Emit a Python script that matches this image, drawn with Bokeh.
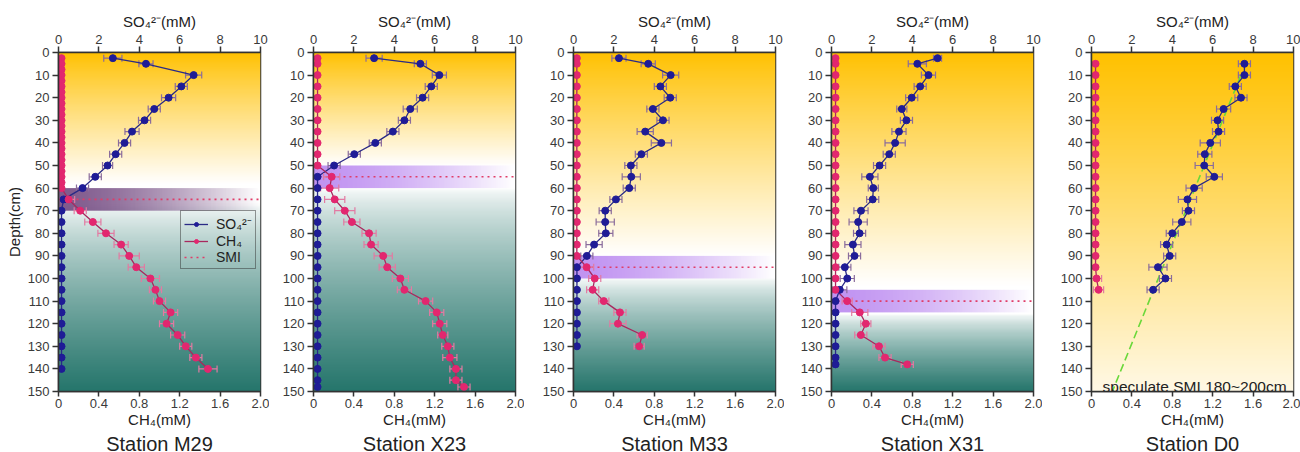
import math
import numpy as np
from bokeh.plotting import figure
from bokeh.models import (Range1d, LinearAxis, FixedTicker, ColumnDataSource, Label,
                          Legend, LegendItem)
from bokeh.layouts import row
from bokeh.embed import file_html
from bokeh.resources import INLINE

# ---------------- data ----------------
DEPTH_TICKS = [0, 10, 20, 30, 40, 50, 60, 70, 80, 90, 100, 110, 120, 130, 140, 150]
SO4_TICKS = [0, 2, 4, 6, 8, 10]
CH4_TICKS = [0, 0.4, 0.8, 1.2, 1.6, 2.0]
CH4_TICK_LABELS = {0: "0", 2: "2.0"}
SO4_RANGE = (0, 10)
CH4_RANGE = (0, 2)
DEPTH_RANGE = (150, 0)

STATIONS = ["Station M29", "Station X23", "Station M33", "Station X31", "Station D0"]

# M29
m29_so4_depth = [2.5, 5, 10, 15, 20, 25, 30, 35, 40, 45, 50, 55, 60, 65, 70, 75, 80, 85, 90,
                 95, 100, 105, 110, 115, 120, 125, 130, 135, 140]
m29_so4 = [2.69, 4.33, 6.69, 6.08, 5.45, 4.74, 4.26, 3.64, 3.27, 2.83, 2.43, 1.82, 1.19, 0.25,
           0.15, 0.15, 0.15, 0.15, 0.15, 0.15, 0.15, 0.15, 0.15, 0.15, 0.15, 0.15, 0.15, 0.15, 0.15]
m29_so4_err = [0.45, 0.35, 0.4, 0.3, 0.35, 0.3, 0.3, 0.35, 0.3, 0.3, 0.25, 0.3, 0.3, 0.0,
               0, 0, 0, 0, 0, 0, 0, 0, 0, 0, 0, 0, 0, 0, 0]
m29_ch4_depth = [2.5, 5, 7.5, 10, 12.5, 15, 17.5, 20, 22.5, 25, 27.5, 30, 32.5, 35, 37.5, 40,
                 42.5, 45, 47.5, 50, 52.5, 55, 57.5, 60, 65, 70, 75, 80, 85, 90, 95, 100, 105,
                 110, 115, 120, 125, 130, 135, 140]
m29_ch4 = [0.03, 0.03, 0.03, 0.03, 0.03, 0.03, 0.03, 0.03, 0.03, 0.03, 0.03, 0.03, 0.03, 0.03,
           0.03, 0.03, 0.03, 0.03, 0.03, 0.03, 0.03, 0.03, 0.03, 0.03,
           0.10, 0.215, 0.34, 0.47, 0.62, 0.70, 0.77, 0.91, 0.96, 1.00, 1.11, 1.07, 1.18, 1.26,
           1.36, 1.48]
m29_ch4_err = [0, 0, 0, 0, 0, 0, 0, 0, 0, 0, 0, 0, 0, 0, 0, 0, 0, 0, 0, 0, 0, 0, 0, 0,
               0.06, 0.06, 0.08, 0.08, 0.07, 0.1, 0.08, 0.09, 0.06, 0.06, 0.07, 0.07, 0.07,
               0.06, 0.06, 0.09]

# X23
x23_so4_depth = [2.5, 5, 10, 15, 20, 25, 30, 35, 40, 45, 50, 55, 60, 65, 70, 75, 80, 85, 90,
                 95, 100, 105, 110, 115, 120, 125, 130, 135, 140, 145, 148]
x23_so4 = [3.0, 5.29, 6.23, 5.83, 5.40, 4.79, 4.50, 3.93, 3.06, 2.02, 1.02, 0.2,
           0.2, 0.2, 0.2, 0.2, 0.2, 0.2, 0.2, 0.2, 0.2, 0.2, 0.2, 0.2, 0.2, 0.2, 0.2, 0.2,
           0.2, 0.2, 0.2]
x23_so4_err = [0.4, 0.3, 0.35, 0.3, 0.3, 0.35, 0.3, 0.3, 0.3, 0.3, 0.3, 0,
               0, 0, 0, 0, 0, 0, 0, 0, 0, 0, 0, 0, 0, 0, 0, 0, 0, 0, 0]
x23_ch4_depth = [2.5, 5, 10, 15, 20, 25, 30, 35, 40, 45, 50, 55, 60, 65, 70, 75, 80, 85, 90,
                 95, 100, 105, 110, 115, 120, 125, 130, 135, 140, 145, 148]
x23_ch4 = [0.04, 0.04, 0.04, 0.04, 0.04, 0.04, 0.04, 0.04, 0.04, 0.04, 0.04,
           0.18, 0.16, 0.21, 0.31, 0.38, 0.55, 0.57, 0.69, 0.73, 0.86, 0.90, 1.11, 1.22,
           1.25, 1.28, 1.33, 1.35, 1.41, 1.41, 1.49]
x23_ch4_err = [0, 0, 0, 0, 0, 0, 0, 0, 0, 0, 0,
               0.08, 0.09, 0.1, 0.1, 0.08, 0.07, 0.07, 0.09, 0.08, 0.08, 0.07, 0.07, 0.07,
               0.07, 0.05, 0.06, 0.07, 0.06, 0.06, 0.06]

# M33
m33_so4_depth = [2.5, 5, 10, 15, 20, 25, 30, 35, 40, 45, 50, 55, 60, 65, 70, 75, 80, 85, 90,
                 95, 100, 105, 110, 115, 120, 125, 130]
m33_so4 = [2.25, 3.70, 4.81, 4.30, 4.79, 3.93, 4.43, 3.55, 4.35, 3.36, 2.84, 2.86, 2.76, 2.10,
           1.57, 1.57, 1.60, 1.02, 0.66, 0.17, 0.17, 0.17, 0.17, 0.17, 0.17, 0.17, 0.17]
m33_so4_err = [0.35, 0.35, 0.4, 0.3, 0.3, 0.3, 0.3, 0.4, 0.5, 0.3, 0.3, 0.45, 0.3, 0.3, 0.3,
               0.45, 0.35, 0.4, 0.3, 0, 0, 0, 0, 0, 0, 0, 0]
m33_ch4_depth = [2.5, 5, 10, 15, 20, 25, 30, 35, 40, 45, 50, 55, 60, 65, 70, 75, 80, 85, 90,
                 95, 100, 105, 110, 115, 120, 125, 130]
m33_ch4 = [0.033, 0.033, 0.033, 0.033, 0.033, 0.033, 0.033, 0.033, 0.033, 0.033, 0.033, 0.033,
           0.033, 0.033, 0.033, 0.033, 0.033, 0.033, 0.033,
           0.13, 0.21, 0.19, 0.30, 0.46, 0.44, 0.68, 0.65]
m33_ch4_err = [0, 0, 0, 0, 0, 0, 0, 0, 0, 0, 0, 0, 0, 0, 0, 0, 0, 0, 0,
               0.07, 0.06, 0.06, 0.05, 0.06, 0.08, 0.05, 0.05]

# X31
x31_so4_depth = [2.5, 5, 10, 15, 20, 25, 30, 35, 40, 45, 50, 55, 60, 65, 70, 75, 80, 85, 90,
                 95, 100, 105, 110, 115, 120, 125, 130, 135, 138]
x31_so4 = [5.25, 4.25, 4.80, 4.39, 3.97, 3.48, 3.71, 3.34, 3.15, 2.86, 2.38, 1.90, 2.07, 2.04,
           1.46, 1.32, 1.39, 1.06, 1.14, 0.66, 0.78, 0.41, 0.2, 0.2, 0.2, 0.2, 0.2, 0.2, 0.2]
x31_so4_err = [0.2, 0.45, 0.35, 0.3, 0.3, 0.25, 0.3, 0.35, 0.5, 0.3, 0.3, 0.4, 0.25, 0.3, 0.35,
               0.45, 0.3, 0.4, 0.3, 0.3, 0.35, 0.35, 0, 0, 0, 0, 0, 0, 0]
x31_ch4_depth = [2.5, 5, 10, 15, 20, 25, 30, 35, 40, 45, 50, 55, 60, 65, 70, 75, 80, 85, 90,
                 95, 100, 105, 110, 115, 120, 125, 130, 135, 138]
x31_ch4 = [0.04, 0.04, 0.04, 0.04, 0.04, 0.04, 0.04, 0.04, 0.04, 0.04, 0.04, 0.04, 0.04, 0.04,
           0.04, 0.04, 0.04, 0.04, 0.04, 0.04, 0.04, 0.04,
           0.155, 0.28, 0.34, 0.29, 0.47, 0.53, 0.75]
x31_ch4_err = [0, 0, 0, 0, 0, 0, 0, 0, 0, 0, 0, 0, 0, 0, 0, 0, 0, 0, 0, 0, 0, 0,
               0.05, 0.08, 0.05, 0.06, 0.06, 0.06, 0.06]

# D0
d0_so4_depth = [5, 10, 15, 20, 25, 30, 35, 40, 45, 50, 55, 60, 65, 70, 75, 80, 85, 90, 95, 100, 105]
d0_so4 = [7.57, 7.57, 7.12, 7.40, 6.54, 6.24, 6.29, 5.88, 5.61, 5.58, 6.08, 5.08, 4.75, 4.80,
          4.47, 4.00, 3.72, 3.87, 3.29, 3.66, 3.05]
d0_so4_err = [0.3, 0.3, 0.3, 0.3, 0.35, 0.3, 0.3, 0.5, 0.35, 0.45, 0.4, 0.4, 0.45, 0.3, 0.45,
              0.3, 0.3, 0.3, 0.45, 0.3, 0.3]
d0_ch4_depth = [5, 10, 15, 20, 25, 30, 35, 40, 45, 50, 55, 60, 65, 70, 75, 80, 85, 90, 95, 100, 105]
d0_ch4 = [0.04, 0.04, 0.04, 0.04, 0.04, 0.04, 0.04, 0.04, 0.04, 0.04, 0.04, 0.04, 0.04, 0.04,
          0.04, 0.04, 0.04, 0.04, 0.04, 0.05, 0.07]
d0_ch4_err = [0, 0, 0, 0, 0, 0, 0, 0, 0, 0, 0, 0, 0, 0, 0, 0, 0, 0, 0, 0.05, 0.05]
d0_trend_depth = [10, 150]
d0_trend_so4 = [7.4, 1.03]
d0_note = "speculate SMI 180~200cm"

SMI_DEPTH = [65, 55, 95, 110, None]
SMI_BAND = [(60, 70), (50, 60), (90, 100), (105, 115), None]

# ---------------- styling ----------------
FONT = "Liberation Sans"
SO4_COLOR = "#1f1c96"
SO4_LINE = "#2a2a86"
SO4_BAR = "#8a6c9c"
CH4_COLOR = "#e2276f"
CH4_LINE = "#a8285e"
CH4_BAR = "#e27aa2"
SMI_COLOR = "#e03c68"
AX = "#333333"

ORANGE = np.array([255, 193, 0], float)
WHITE = np.array([255, 255, 255], float)
TEAL = np.array([38, 118, 108], float)
PALE = np.array([255, 249, 230], float)

WHITE_ZONE = [(58, 67), (50, 60), (90, 100), (103, 116), None]
BAND_COLOR = [((105, 60, 120), 0.85), ((165, 100, 235), 0.7), ((165, 100, 235), 0.7),
              ((165, 100, 235), 0.7), None]

LEFT = [58, 44, 49, 47, 49]
RIGHT = [9, 9, 9, 9, 7]


def bg_image(zone):
    n = 300
    d = np.linspace(0, 150, n)
    cols = np.zeros((n, 3))
    for i, dd in enumerate(d):
        if zone is None:
            t = dd / 150.0
            c = ORANGE + (PALE - ORANGE) * t
        else:
            w0, w1 = zone
            if dd <= w0:
                t = (dd / w0) ** 0.9
                c = ORANGE + (WHITE - ORANGE) * t
            elif dd <= w1:
                c = WHITE
            else:
                t = ((dd - w1) / (150 - w1)) ** 0.7
                c = WHITE + (TEAL - WHITE) * t
        cols[i] = c
    img = np.zeros((n, 2), dtype=np.uint32)
    v = img.view(dtype=np.uint8).reshape((n, 2, 4))
    for j in range(2):
        v[:, j, 0] = cols[:, 0]
        v[:, j, 1] = cols[:, 1]
        v[:, j, 2] = cols[:, 2]
        v[:, j, 3] = 255
    return img


def band_image(color, a0):
    m = 120
    img = np.zeros((2, m), dtype=np.uint32)
    v = img.view(dtype=np.uint8).reshape((2, m, 4))
    xs = np.linspace(0, 1, m)
    alpha = a0 * (1 - xs ** 1.5)
    for r in range(2):
        v[r, :, 0] = color[0]
        v[r, :, 1] = color[1]
        v[r, :, 2] = color[2]
        v[r, :, 3] = (alpha * 255).astype(np.uint8)
    return img


def style_axis(ax):
    ax.axis_line_color = AX
    ax.axis_line_width = 1.5
    ax.major_tick_line_color = AX
    ax.major_tick_line_width = 1.5
    ax.major_tick_out = 6
    ax.major_tick_in = 0
    ax.minor_tick_line_color = None
    ax.major_label_text_font = FONT
    ax.major_label_text_font_size = "13px"
    ax.major_label_text_color = "#3a3a3a"
    ax.major_label_standoff = 3
    ax.axis_label_text_font = FONT
    ax.axis_label_text_font_size = "15px"
    ax.axis_label_text_font_style = "normal"
    ax.axis_label_text_color = "#222222"
    ax.axis_label_standoff = 2


def draw_series(p, d, v, e, color, line_color, bar_color, rng=None):
    kw = {} if rng is None else {"x_range_name": rng}
    bd = [a for a, b in zip(d, e) if b > 0]
    blo = [x - b for x, b in zip(v, e) if b > 0]
    bhi = [x + b for x, b in zip(v, e) if b > 0]
    bsrc = ColumnDataSource(dict(d=bd, lo=blo, hi=bhi))
    p.segment(x0="lo", y0="d", x1="hi", y1="d", source=bsrc, line_color=bar_color,
              line_width=1.2, **kw)
    p.scatter(x="lo", y="d", source=bsrc, marker="dash", angle=math.pi / 2, size=7,
              line_color=bar_color, line_width=1.2, **kw)
    p.scatter(x="hi", y="d", source=bsrc, marker="dash", angle=math.pi / 2, size=7,
              line_color=bar_color, line_width=1.2, **kw)
    src = ColumnDataSource(dict(d=d, v=v))
    ln = p.line(x="v", y="d", source=src, line_color=line_color, line_width=1.3, **kw)
    return ln, src


def make_panel(i, so4_d, so4_v, so4_e, ch4_d, ch4_v, ch4_e):
    p = figure(frame_width=202, frame_height=339,
               x_range=Range1d(*SO4_RANGE), y_range=Range1d(*DEPTH_RANGE),
               x_axis_location="above", output_backend="svg", toolbar_location=None,
               min_border_left=LEFT[i], min_border_right=RIGHT[i],
               min_border_top=52, min_border_bottom=61)
    p.extra_x_ranges = {"ch4": Range1d(*CH4_RANGE)}
    bottom = LinearAxis(x_range_name="ch4", axis_label="CH₄(mM)")
    bottom.ticker = FixedTicker(ticks=CH4_TICKS)
    bottom.major_label_overrides = CH4_TICK_LABELS
    p.add_layout(bottom, "below")
    top = p.above[0]
    top.ticker = FixedTicker(ticks=SO4_TICKS)
    top.axis_label = "SO₄²⁻(mM)"
    left = p.left[0]
    left.ticker = FixedTicker(ticks=DEPTH_TICKS)
    if i == 0:
        left.axis_label = "Depth(cm)"
    for ax in (top, bottom, left):
        style_axis(ax)
    bottom.major_tick_out = 5
    bottom.major_label_standoff = 2
    bottom.axis_label_standoff = 0
    p.grid.visible = False
    p.outline_line_color = AX
    p.outline_line_width = 1.5
    p.background_fill_color = "white"
    p.border_fill_color = "white"

    p.title.text = STATIONS[i]
    p.title_location = "below"
    p.title.align = "center"
    p.title.standoff = 0
    p.title.offset = 0
    p.title.text_font = FONT
    p.title.text_font_size = "20px"
    p.title.text_font_style = "normal"
    p.title.text_color = "#222222"

    p.image_rgba(image=[bg_image(WHITE_ZONE[i])], x=SO4_RANGE[0], y=0, dw=SO4_RANGE[1], dh=150)
    if SMI_BAND[i] is not None:
        b0, b1 = SMI_BAND[i]
        col, a0 = BAND_COLOR[i]
        p.image_rgba(image=[band_image(col, a0)], x=SO4_RANGE[0], y=b0, dw=SO4_RANGE[1],
                     dh=b1 - b0)
    smi_r = None
    if SMI_DEPTH[i] is not None:
        smi_r = p.line(x=[SO4_RANGE[0], SO4_RANGE[1]], y=[SMI_DEPTH[i], SMI_DEPTH[i]],
                       line_color=SMI_COLOR, line_dash="2 4", line_width=1.6)
    if i == 4:
        p.line(x=d0_trend_so4, y=d0_trend_depth, line_color="#6ad83a", line_dash="8 4",
               line_width=1.6)

    s_ln, s_src = draw_series(p, so4_d, so4_v, so4_e, SO4_COLOR, SO4_LINE, SO4_BAR)
    c_ln, c_src = draw_series(p, ch4_d, ch4_v, ch4_e, CH4_COLOR, CH4_LINE, CH4_BAR, "ch4")
    s_sc = p.scatter(x="v", y="d", source=s_src, size=7, fill_color=SO4_COLOR,
                     line_color=SO4_COLOR)
    c_sc = p.scatter(x="v", y="d", source=c_src, size=7, fill_color=CH4_COLOR,
                     line_color=CH4_COLOR, x_range_name="ch4")

    if i == 0:
        leg = Legend(items=[LegendItem(label="SO₄²⁻", renderers=[s_ln, s_sc]),
                            LegendItem(label="CH₄", renderers=[c_ln, c_sc]),
                            LegendItem(label="SMI", renderers=[smi_r])],
                     location=(122, 122))
        leg.border_line_color = AX
        leg.border_line_width = 1
        leg.background_fill_alpha = 0
        leg.label_text_font = FONT
        leg.label_text_font_size = "14px"
        leg.label_text_color = "#222222"
        leg.label_text_line_height = 1.0
        leg.glyph_width = 24
        leg.glyph_height = 10
        leg.label_height = 10
        leg.spacing = 0
        leg.padding = 3
        leg.label_standoff = 8
        leg.margin = 0
        p.add_layout(leg)
    if i == 4:
        p.add_layout(Label(x=0.55, y=148, text=d0_note, text_font=FONT,
                           text_font_size="15.5px", text_color="#222222",
                           text_baseline="alphabetic"))
    return p


panels = [
    make_panel(0, m29_so4_depth, m29_so4, m29_so4_err, m29_ch4_depth, m29_ch4, m29_ch4_err),
    make_panel(1, x23_so4_depth, x23_so4, x23_so4_err, x23_ch4_depth, x23_ch4, x23_ch4_err),
    make_panel(2, m33_so4_depth, m33_so4, m33_so4_err, m33_ch4_depth, m33_ch4, m33_ch4_err),
    make_panel(3, x31_so4_depth, x31_so4, x31_so4_err, x31_ch4_depth, x31_ch4, x31_ch4_err),
    make_panel(4, d0_so4_depth, d0_so4, d0_so4_err, d0_ch4_depth, d0_ch4, d0_ch4_err),
]

layout = row(*panels, spacing=0)
open("out.html", "w").write(file_html(layout, INLINE))
